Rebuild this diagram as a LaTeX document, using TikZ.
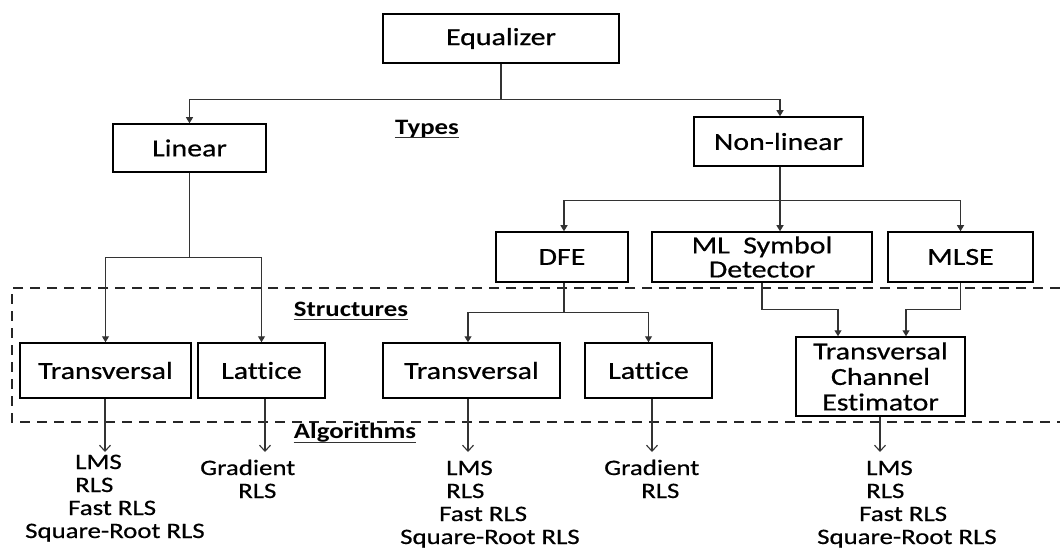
\documentclass[tikz,border=0pt]{standalone}
\usepackage{fontspec}
\setmainfont{Carlito}[FakeStretch=1.22, Ligatures=NoCommon]
\newfontfamily\heavyfont{Carlito}[FakeStretch=1.22, FakeBold=0.6, Ligatures=NoCommon]
\usetikzlibrary{arrows.meta}
\tikzset{
  box/.style={draw=black, line width=1.5pt, inner sep=0pt, align=center,
    font=\heavyfont\fontsize{24.5}{25}\selectfont},
  conn/.style={draw=black!80, line width=1.1pt},
  arr/.style={conn, -{Triangle[length=6pt,width=7pt]}},
  arrb/.style={conn, -{Straight Barb[length=6pt,width=11pt,line width=1.1pt]}},
  algo/.style={anchor=base west, inner sep=0pt, font=\heavyfont\fontsize{22}{23}\selectfont},
  lbl/.style={anchor=base, inner sep=0pt, font=\bfseries\fontsize{22}{24}\selectfont},
  uline/.style={draw=black!80, line width=1pt},
  dashbox/.style={draw=black!85, line width=1.5pt, dash pattern=on 10pt off 7pt},
}
\begin{document}
\begin{tikzpicture}[x=1pt,y=-1pt]
\useasboundingbox[fill=white] (0,0) rectangle (1060,548);

% dashed region
\draw[dashbox] (1060,288) -- (12,288) -- (12,422) -- (1060,422);

% boxes
\node[box, minimum width=236pt, minimum height=49pt] (eq) at (501,38.5) {Equalizer};
\node[box, minimum width=153pt, minimum height=48pt] (lin) at (189.5,148) {Linear};
\node[box, minimum width=169pt, minimum height=49pt] (nonlin) at (778.5,141.5) {Non-linear};
\node[box, minimum width=132pt, minimum height=50pt] (dfe) at (562,257) {DFE};
\node[box, minimum width=220pt, minimum height=50pt, font=\heavyfont\fontsize{24.5}{24}\selectfont] (mlsd) at (762,257) {ML\ \ Symbol\\Detector};
\node[box, minimum width=145pt, minimum height=50pt] (mlse) at (960.5,257) {MLSE};
\node[box, minimum width=171pt, minimum height=55pt] (tr1) at (105.5,370.5) {Transversal};
\node[box, minimum width=127pt, minimum height=55pt] (la1) at (261.5,370.5) {Lattice};
\node[box, minimum width=177pt, minimum height=55pt] (tr2) at (471.5,370.5) {Transversal};
\node[box, minimum width=127pt, minimum height=55pt] (la2) at (648.5,370.5) {Lattice};
\node[box, minimum width=169pt, minimum height=79pt, font=\heavyfont\fontsize{24.5}{25.5}\selectfont] (tce) at (880.5,376.5) {Transversal\\Channel\\Estimator};

% labels
\node[lbl] (types) at (427,135) {Types};
\node[lbl] (struct) at (351,316) {Structures};
\node[lbl] (algs) at (355,438) {Algorithms};
\draw[uline] ([yshift=-3pt]types.base west) -- ([yshift=-3pt]types.base east);
\draw[uline] ([yshift=-3.5pt]struct.base west) -- ([yshift=-3.5pt]struct.base east);
\draw[uline] ([yshift=-4.5pt]algs.base west) -- ([yshift=-4.5pt]algs.base east);

% tree connectors
\draw[arr] (eq.south) -- ++(0,35.5) -| (lin.north);
\draw[arr] (eq.south) -- ++(0,35.5) -| ([xshift=1.5pt]nonlin.north);
\draw[arr] (lin.south) -- ++(0,85) -| (tr1.north);
\draw[arr] (lin.south) -- ++(0,85) -| (la1.north);
\draw[arr] ([xshift=1.5pt]nonlin.south) -- ++(0,34) -| ([xshift=2pt]dfe.north);
\draw[arr] ([xshift=1.5pt]nonlin.south) -- ([xshift=1.5pt]nonlin.south |- mlsd.north);
\draw[arr] ([xshift=1.5pt]nonlin.south) -- ++(0,34) -| (mlse.north);
\draw[arr] ([xshift=2pt]dfe.south) -- ++(0,30) -| ([xshift=-3.5pt]tr2.north);
\draw[arr] ([xshift=2pt]dfe.south) -- ++(0,30) -| (la2.north);
\draw[arr] (mlsd.south) -- ++(0,27) -| ([xshift=-42.5pt]tce.north);
\draw[arr] (mlse.south) -- ++(0,27) -| ([xshift=25.5pt]tce.north);

% algorithm arrows
\coordinate (e1) at (105,452);
\coordinate (e2) at (265,452);
\coordinate (e3) at (468,452);
\coordinate (e4) at (652,452);
\coordinate (e5) at (880,452);
\draw[arrb] (e1 |- tr1.south) -- (e1);
\draw[arrb] (e2 |- la1.south) -- (e2);
\draw[arrb] (e3 |- tr2.south) -- (e3);
\draw[arrb] (e4 |- la2.south) -- (e4);
\draw[arrb] (e5 |- tce.south) -- (e5);

% algorithm texts
\node[algo] (t1a) at (75,469) {LMS};
\node[algo] (t1b) at (75,492) {RLS};
\node[algo] (t1c) at (68,515) {Fast RLS};
\node[algo] (t1d) at (25,538) {Square-Root RLS};

\node[algo] (l1a) at (200,475) {Gradient};
\node[algo] (l1b) at (238,498) {RLS};

\node[algo] (t2a) at (446,475) {LMS};
\node[algo] (t2b) at (446,498) {RLS};
\node[algo] (t2c) at (439,521) {Fast RLS};
\node[algo] (t2d) at (400,544) {Square-Root RLS};

\node[algo] (l2a) at (604,475) {Gradient};
\node[algo] (l2b) at (641,498) {RLS};

\node[algo] (c1a) at (866,475) {LMS};
\node[algo] (c1b) at (866,498) {RLS};
\node[algo] (c1c) at (859,521) {Fast RLS};
\node[algo] (c1d) at (817,544) {Square-Root RLS};
\end{tikzpicture}
\end{document}
